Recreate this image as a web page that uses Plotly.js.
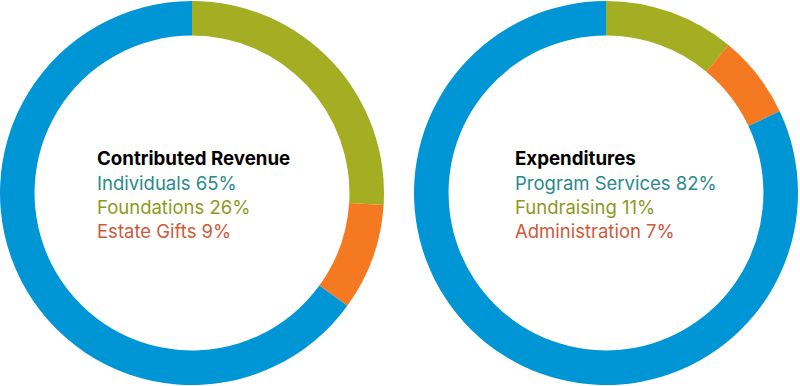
<!DOCTYPE html>
<html>
<head>
<meta charset="utf-8">
<script src="https://cdn.plot.ly/plotly-3.0.1.min.js"></script>
<style>html,body{margin:0;padding:0;background:#fff;}#chart{width:800px;height:386px;}</style>
</head>
<body>
<div id="chart"></div>
<script>
// Contributed Revenue
const revenueTitle = "Contributed Revenue";
const revenueLabels = ["Individuals", "Foundations", "Estate Gifts"];
const revenueValues = [65, 26, 9];
// Expenditures
const expenseTitle = "Expenditures";
const expenseLabels = ["Program Services", "Fundraising", "Administration"];
const expenseValues = [82, 11, 7];

const sliceColors = ["#0096D6", "#A3AE22", "#F47920"];
const textColors = ["#2B8A8E", "#8C9A1C", "#D0593A"];
const drawOrder = [1, 2, 0]; // clockwise from 12 o'clock

function pieTrace(labels, values, domainX) {
  return {
    type: "pie",
    labels: drawOrder.map(i => labels[i]),
    values: drawOrder.map(i => values[i]),
    marker: { colors: drawOrder.map(i => sliceColors[i]), line: { width: 0 } },
    hole: 0.82,
    sort: false,
    direction: "clockwise",
    rotation: 0,
    textinfo: "none",
    hoverinfo: "none",
    showlegend: false,
    domain: { x: domainX, y: [0, 1] }
  };
}

function textBlock(title, labels, values, xPx) {
  const anns = [];
  const font = "Inter, Roboto, 'Liberation Sans', sans-serif";
  anns.push({
    xref: "paper", yref: "paper", x: xPx / 800, y: 1 - 158 / 386,
    xanchor: "left", yanchor: "middle", showarrow: false,
    text: "<b>" + title + "</b>",
    font: { family: font, size: 18.7, color: "#000" }
  });
  labels.forEach((l, i) => {
    anns.push({
      xref: "paper", yref: "paper", x: xPx / 800, y: 1 - (183 + 24 * i) / 386,
      xanchor: "left", yanchor: "middle", showarrow: false,
      text: l + " " + values[i] + "%",
      font: { family: font, size: 18.5, color: textColors[i] }
    });
  });
  return anns;
}

const data = [
  pieTrace(revenueLabels, revenueValues, [0, 384 / 800]),
  pieTrace(expenseLabels, expenseValues, [414 / 800, 798 / 800])
];

const layout = {
  width: 800, height: 386,
  margin: { l: 0, r: 0, t: 0, b: 0 },
  paper_bgcolor: "#fff",
  plot_bgcolor: "#fff",
  annotations: [
    ...textBlock(revenueTitle, revenueLabels, revenueValues, 95),
    ...textBlock(expenseTitle, expenseLabels, expenseValues, 513)
  ]
};

Plotly.newPlot("chart", data, layout, { staticPlot: true, displayModeBar: false });
</script>
</body>
</html>
